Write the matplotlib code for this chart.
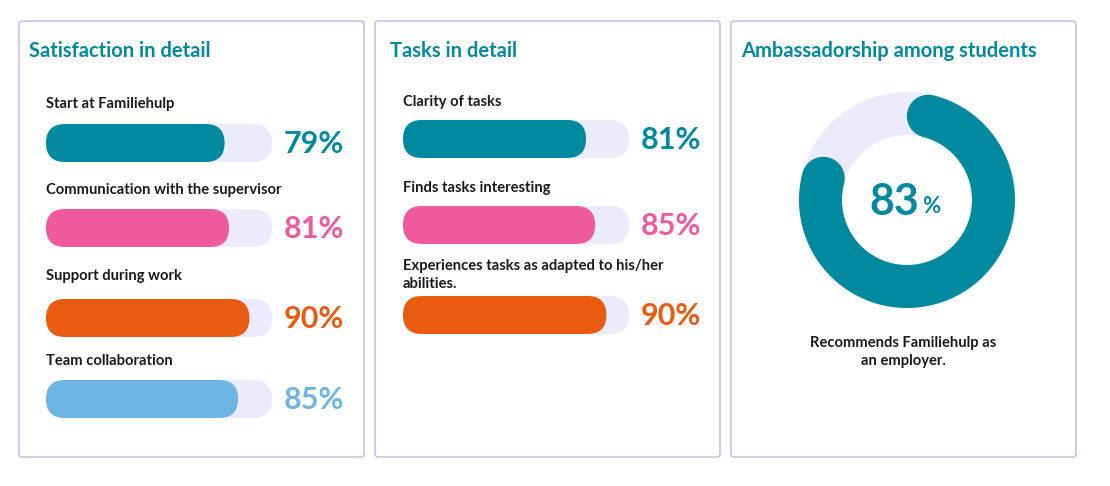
import numpy as np
import matplotlib.pyplot as plt
from matplotlib.patches import FancyBboxPatch, Wedge

plt.rcParams['font.family'] = ['Lato', 'DejaVu Sans']

# data
sat_labels = ['Start at Familiehulp', 'Communication with the supervisor',
              'Support during work', 'Team collaboration']
sat_values = [79, 81, 90, 85]
task_labels = ['Clarity of tasks', 'Finds tasks interesting',
               'Experiences tasks as adapted to his/her\nabilities.']
task_values = [81, 85, 90]
ambassador_value = 83
ambassador_text = 'Recommends Familiehulp as\nan employer.'

teal = '#00899F'
colors = ['#00899F', '#EE5A9C', '#E95B10', '#6DB5E4']
track = '#EBEBFB'
border = '#BDB8E3'

fig = plt.figure(figsize=(11.1, 4.86), dpi=100)
ax = fig.add_axes([0, 0, 1, 1])
ax.set_xlim(0, 1110)
ax.set_ylim(486, 0)
ax.set_aspect('equal')
ax.axis('off')

# panels
for x0 in [19, 375, 731]:
    ax.add_patch(FancyBboxPatch((x0, 21), 345, 436, boxstyle='round,pad=0,rounding_size=3',
                                fc='white', ec=border, lw=1))

titles = [(29, 'Satisfaction in detail'), (390, 'Tasks in detail'),
          (741, 'Ambassadorship among students')]
for x, t in titles:
    ax.text(x, 51, t, color=teal, fontsize=14.5, fontweight='bold', va='center', ha='left')


def bar_block(x0, label_ys, bar_ys, labels, values):
    w, h = 226, 38
    for i, (lab, v) in enumerate(zip(labels, values)):
        c = colors[i]
        ax.text(x0, label_ys[i], lab, fontsize=10.6, fontweight='bold', color='#1a1a1a',
                va='center', ha='left', linespacing=1.45)
        yc = bar_ys[i]
        ax.add_patch(FancyBboxPatch((x0, yc - h / 2), w, h,
                                    boxstyle='round,pad=0,rounding_size=19', fc=track, ec='none'))
        ax.add_patch(FancyBboxPatch((x0, yc - h / 2), w * v / 100, h,
                                    boxstyle='round,pad=0,rounding_size=19', fc=c, ec='none'))
        ax.text(x0 + w + 72, yc + 1, f'{v}%', fontsize=22, fontweight='bold', color=c,
                va='center', ha='right')


bar_block(46, [104, 190, 276, 361], [143, 228, 318, 399], sat_labels, sat_values)
bar_block(403, [102, 188, 275], [139, 225, 315], task_labels, task_values)

# donut
cx, cy = 907, 200
r_out, ring = 108, 43
r_mid = r_out - ring / 2
ax.add_patch(Wedge((cx, cy), r_out, 0, 360, width=ring, fc=track, ec='none'))
cap = (ring / 2) / r_mid
end = 2 * np.pi * ambassador_value / 100 - cap
th = np.linspace(cap, end, 400)
ax.plot(cx + r_mid * np.sin(th), cy - r_mid * np.cos(th), color=teal, lw=ring * 0.72,
        solid_capstyle='round')
ax.text(cx + 12, cy + 2, f'{ambassador_value}', fontsize=31, fontweight='bold', color=teal,
        va='center', ha='right')
ax.text(cx + 15, cy + 6, '%', fontsize=16, fontweight='bold', color=teal,
        va='center', ha='left')
ax.text(903, 352, ambassador_text, fontsize=10.6, fontweight='bold', color='#1a1a1a',
        va='center', ha='center', linespacing=1.45)

fig.savefig('out.png', dpi=100)
